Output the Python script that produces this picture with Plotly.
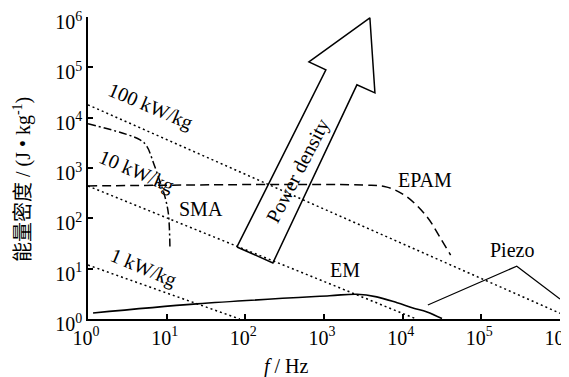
import plotly.graph_objects as go

# ---- data ----
tick_vals = [1, 10, 100, 1000, 10000, 100000, 1000000]
tick_text = ["10<sup>0</sup>", "10<sup>1</sup>", "10<sup>2</sup>", "10<sup>3</sup>",
             "10<sup>4</sup>", "10<sup>5</sup>", "10<sup>6</sup>"]

kw100_f = [1, 1000000]
kw100_e = [18000, 1.3]
kw10_f = [1, 15000]
kw10_e = [440, 1]
kw1_f = [1, 85]
kw1_e = [11.8, 1]

sma_f = [1, 4.6, 5.6, 6.8, 8.1, 9.5, 10.5, 11]
sma_e = [7600, 3630, 2690, 1260, 575, 270, 126, 27.5]

epam_f = [1, 3160, 6310, 11200, 20400, 29500, 40700]
epam_e = [440, 457, 417, 270, 107, 43, 18.6]

em_f = [1.16, 24, 1175, 2630, 4680, 8500, 13500, 20400, 31600]
em_e = [1.32, 2.0, 2.9, 3.1, 2.75, 2.1, 1.66, 1.38, 1.02]

piezo_f = [20900, 282000, 1000000]
piezo_e = [1.9, 11.2, 2.5]

arrow_f = [78.2, 224, 2620, 4440, 3830, 643, 1057, 78.2]
arrow_e = [27.0, 13.0, 44900, 31100, 964000, 128500, 89100, 27.0]

FONT = "Liberation Serif"
CJK = "Liberation Serif, Noto Sans CJK SC"

fig = go.Figure()

def add(x, y, dash="solid", width=1.5, shape="linear"):
    fig.add_trace(go.Scatter(x=x, y=y, mode="lines", cliponaxis=False,
                             line=dict(color="black", width=width, dash=dash, shape=shape),
                             showlegend=False, hoverinfo="skip"))

add(kw100_f, kw100_e, dash="2px,3px")
add(kw10_f, kw10_e, dash="2px,3px")
add(kw1_f, kw1_e, dash="2px,3px")
add(sma_f, sma_e, dash="8px,3px,2px,3px", shape="spline")
add(epam_f, epam_e, dash="9px,5px", shape="spline")
add(em_f, em_e, width=1.6, shape="spline")
add(piezo_f, piezo_e, width=1.2)
add(arrow_f, arrow_e, width=1.5)

axis_common = dict(type="log", range=[0, 6], showline=True, linecolor="black", linewidth=1.5,
                   ticks="inside", ticklen=5, tickwidth=1.5, tickcolor="black",
                   tickvals=tick_vals, ticktext=tick_text, showgrid=False, zeroline=False,
                   tickfont=dict(family=FONT, size=20, color="black"), mirror=False,
                   automargin=False, ticklabeloverflow="allow")

# page body has an 8px margin, so margins are shifted by 8px
fig.update_layout(
    width=569, height=369,
    margin=dict(l=80, r=17, t=9, b=58, autoexpand=False),
    paper_bgcolor="white", plot_bgcolor="white",
    xaxis=dict(axis_common, ticklabelshift=-2),
    yaxis=dict(axis_common, ticklabelshift=5),
    font=dict(family=FONT, size=20, color="black"),
)

labels = [
    ("100 kW/kg", 0.80, 4.23, 23),
    ("10 kW/kg", 0.62, 2.94, 23),
    ("1 kW/kg", 0.70, 1.03, 23),
    ("SMA", 1.44, 2.19, 0),
    ("EPAM", 4.29, 2.76, 0),
    ("EM", 3.27, 0.97, 0),
    ("Piezo", 5.39, 1.37, 0),
    ("Power density", 2.67, 2.95, -62.6),
]
for txt, lx, ly, ang in labels:
    fig.add_annotation(x=lx, y=ly, xref="x", yref="y", text=txt, showarrow=False,
                       textangle=ang, xanchor="center", yanchor="middle",
                       font=dict(family=FONT, size=20, color="black"))

fig.add_annotation(x=0.42, y=0, xref="paper", yref="paper", yshift=-47,
                   xanchor="center", yanchor="middle",
                   text="<i>f</i> / Hz", showarrow=False,
                   font=dict(family=FONT, size=20, color="black"))
fig.add_annotation(x=0, y=0.46, xref="paper", yref="paper", xshift=-66,
                   xanchor="center", yanchor="middle",
                   text="能量密度 / (J • kg<sup>-1</sup>)", showarrow=False, textangle=-90,
                   font=dict(family=CJK, size=20, color="black"))

fig.write_html("out.html")
